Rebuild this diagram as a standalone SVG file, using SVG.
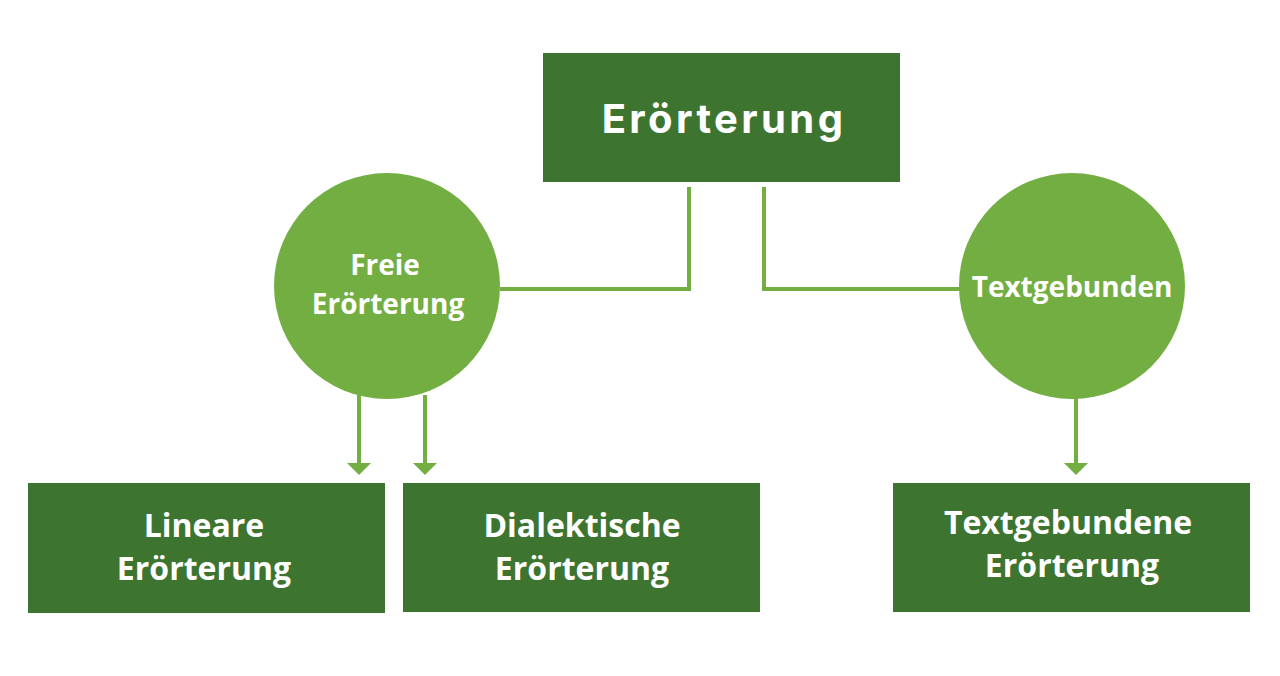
<svg xmlns="http://www.w3.org/2000/svg" width="1280" height="676" viewBox="0 0 1280 676">
  <defs>
    <style>
      .box { fill: #3d7530; }
      .circ { fill: #73ae42; }
      .lbl { fill: #ffffff; font-family: "Open Sans", "Liberation Sans", sans-serif; font-weight: 700; text-anchor: middle; }
      .title { fill: #ffffff; font-family: Inter, "Liberation Sans", sans-serif; font-weight: 700; text-anchor: middle; font-size: 40px; letter-spacing: 3.4px; }
      .conn { fill: none; stroke: #73ae42; stroke-width: 4; }
      .head { fill: #73ae42; }
    </style>
  </defs>
  <rect width="1280" height="676" fill="#ffffff"/>
  <g id="connectors">
    <polyline class="conn" points="689,187 689,289 500,289"/>
    <polyline class="conn" points="764,187 764,289 960,289"/>
    <line class="conn" x1="359" y1="395" x2="359" y2="463"/>
    <path class="head" d="M347,463 L371,463 L359,475 Z"/>
    <line class="conn" x1="425" y1="395" x2="425" y2="463"/>
    <path class="head" d="M413,463 L437,463 L425,475 Z"/>
    <line class="conn" x1="1076" y1="397" x2="1076" y2="463"/>
    <path class="head" d="M1064,463 L1088,463 L1076,475 Z"/>
  </g>
  <g id="node-eroerterung">
    <rect class="box" x="543" y="53" width="357" height="129"/>
    <text class="title" x="724" y="133">Erörterung</text>
  </g>
  <g id="node-freie">
    <circle class="circ" cx="387" cy="286" r="113"/>
    <text class="lbl" x="385" y="275" font-size="28">Freie</text>
    <text class="lbl" x="388" y="314" font-size="28">Erörterung</text>
  </g>
  <g id="node-textgebunden">
    <circle class="circ" cx="1072" cy="286" r="113"/>
    <text class="lbl" x="1072" y="297" font-size="28">Textgebunden</text>
  </g>
  <g id="node-lineare">
    <rect class="box" x="28" y="483" width="357" height="130"/>
    <text class="lbl" x="204" y="537" font-size="32">Lineare</text>
    <text class="lbl" x="204" y="580" font-size="32">Erörterung</text>
  </g>
  <g id="node-dialektische">
    <rect class="box" x="403" y="483" width="357" height="129"/>
    <text class="lbl" x="582" y="537" font-size="32">Dialektische</text>
    <text class="lbl" x="582" y="580" font-size="32">Erörterung</text>
  </g>
  <g id="node-textgebundene">
    <rect class="box" x="893" y="483" width="357" height="129"/>
    <text class="lbl" x="1068" y="534" font-size="32">Textgebundene</text>
    <text class="lbl" x="1072" y="577" font-size="32">Erörterung</text>
  </g>
</svg>
